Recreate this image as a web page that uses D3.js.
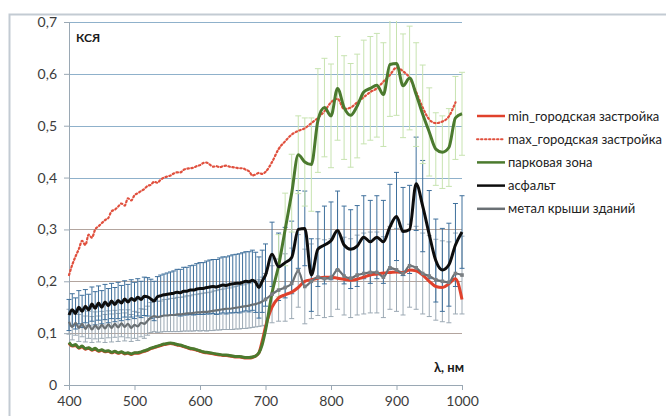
<!DOCTYPE html>
<html>
<head>
<meta charset="utf-8">
<script src="https://cdn.jsdelivr.net/npm/d3@7"></script>
<style>
body { margin: 0; background: #fff; }
svg { display: block; }
</style>
</head>
<body>
<script>
var w = 666;
var h = 416;

// wavelength, nm: 5 nm step up to 700, then 10 nm
var wavelengths = d3.range(400, 700, 5).concat(d3.range(700, 1001, 10));

var minUrban = [0.080,0.075,0.076,0.071,0.074,0.069,0.071,0.067,0.069,0.065,
  0.067,0.064,0.065,0.062,0.064,0.061,0.063,0.060,0.061,0.059,
  0.061,0.061,0.063,0.065,0.067,0.070,0.072,0.074,0.076,0.078,
  0.079,0.080,0.079,0.077,0.076,0.074,0.072,0.070,0.069,0.067,
  0.065,0.063,0.062,0.061,0.060,0.059,0.058,0.057,0.057,0.056,
  0.055,0.054,0.054,0.053,0.052,0.052,0.053,0.056,0.062,0.085,
  0.112,
  0.150,0.168,0.174,0.179,0.188,0.200,0.203,0.206,0.208,0.208,
  0.206,0.204,0.202,0.204,0.208,0.212,0.214,0.216,0.217,0.218,
  0.217,0.222,0.220,0.212,0.200,0.190,0.188,0.195,0.205,0.165];
var maxUrban = [0.212,0.232,0.248,0.262,0.278,0.270,0.290,0.284,0.300,0.306,
  0.312,0.318,0.322,0.335,0.338,0.344,0.350,0.346,0.360,0.356,
  0.366,0.370,0.374,0.378,0.384,0.386,0.392,0.390,0.396,0.400,
  0.402,0.404,0.408,0.410,0.410,0.415,0.417,0.418,0.419,0.422,
  0.424,0.428,0.429,0.425,0.421,0.422,0.420,0.422,0.423,0.421,
  0.420,0.419,0.418,0.418,0.415,0.412,0.404,0.406,0.409,0.407,
  0.411,
  0.430,0.455,0.470,0.483,0.490,0.495,0.505,0.515,0.528,0.545,
  0.552,0.532,0.535,0.545,0.555,0.565,0.572,0.585,0.598,0.612,
  0.605,0.592,0.565,0.535,0.512,0.505,0.508,0.518,0.545,null];
var park = [0.082,0.076,0.078,0.072,0.075,0.070,0.072,0.068,0.071,0.066,
  0.068,0.065,0.066,0.063,0.065,0.062,0.064,0.061,0.062,0.060,
  0.062,0.062,0.064,0.066,0.068,0.071,0.073,0.075,0.077,0.079,
  0.080,0.081,0.080,0.078,0.077,0.075,0.073,0.071,0.070,0.068,
  0.066,0.064,0.063,0.062,0.061,0.060,0.059,0.058,0.058,0.057,
  0.056,0.055,0.055,0.054,0.053,0.053,0.054,0.056,0.062,0.078,
  0.105,
  0.178,0.230,0.300,0.370,0.444,0.430,0.425,0.510,0.535,0.519,
  0.572,0.535,0.520,0.538,0.565,0.572,0.578,0.560,0.618,0.620,
  0.577,0.592,0.560,0.522,0.488,0.455,0.449,0.458,0.515,0.523];
var asphalt = [0.135,0.145,0.138,0.150,0.142,0.152,0.145,0.156,0.148,0.158,
  0.150,0.160,0.153,0.162,0.155,0.163,0.158,0.166,0.160,0.167,
  0.163,0.169,0.165,0.171,0.170,0.166,0.162,0.170,0.172,0.174,
  0.175,0.176,0.177,0.179,0.178,0.181,0.181,0.183,0.183,0.185,
  0.186,0.186,0.188,0.189,0.190,0.189,0.191,0.193,0.192,0.194,
  0.195,0.196,0.196,0.198,0.200,0.199,0.202,0.198,0.188,0.200,
  0.212,
  0.252,0.228,0.236,0.246,0.300,0.302,0.212,0.262,0.270,0.278,
  0.298,0.270,0.262,0.268,0.285,0.276,0.285,0.276,0.305,0.325,
  0.296,0.300,0.388,0.345,0.290,0.240,0.222,0.232,0.270,0.295];
var metal = [0.122,0.112,0.120,0.110,0.118,0.108,0.116,0.107,0.115,0.108,
  0.116,0.109,0.117,0.110,0.118,0.111,0.119,0.112,0.118,0.110,
  0.116,0.113,0.120,0.118,0.124,0.130,0.133,0.131,0.132,0.134,
  0.134,0.135,0.135,0.136,0.136,0.137,0.138,0.138,0.139,0.140,
  0.140,0.141,0.141,0.142,0.143,0.144,0.145,0.146,0.147,0.147,
  0.148,0.149,0.150,0.151,0.152,0.153,0.155,0.156,0.158,0.161,
  0.165,
  0.175,0.183,0.188,0.196,0.220,0.190,0.200,0.208,0.205,0.207,
  0.222,0.210,0.206,0.212,0.215,0.217,0.217,0.208,0.226,0.222,
  0.215,0.230,0.226,0.215,0.210,0.203,0.200,0.198,0.215,0.212];

// error bar half-widths (same wavelengths as the series)
var asphaltErr = [0.030,0.031,0.030,0.032,0.031,0.032,0.030,0.033,0.032,0.033,
  0.032,0.034,0.033,0.034,0.033,0.035,0.034,0.035,0.034,0.036,
  0.035,0.036,0.035,0.037,0.037,0.038,0.038,0.039,0.040,0.040,
  0.041,0.042,0.043,0.044,0.045,0.046,0.046,0.047,0.048,0.049,
  0.050,0.050,0.051,0.052,0.052,0.053,0.054,0.054,0.055,0.055,
  0.056,0.056,0.057,0.057,0.057,0.058,0.058,0.058,0.059,0.060,
  0.060,
  0.062,0.065,0.068,0.070,0.075,0.072,0.070,0.072,0.075,0.075,
  0.076,0.075,0.076,0.078,0.080,0.080,0.080,0.080,0.082,0.085,
  0.085,0.085,0.090,0.088,0.085,0.080,0.080,0.080,0.080,0.070];
var metalErr = [0.024,0.025,0.024,0.026,0.025,0.025,0.026,0.025,0.026,0.025,
  0.026,0.027,0.026,0.027,0.026,0.027,0.026,0.027,0.027,0.026,
  0.026,0.027,0.027,0.028,0.028,0.029,0.030,0.030,0.030,0.031,
  0.031,0.032,0.032,0.033,0.033,0.033,0.034,0.034,0.035,0.035,
  0.036,0.036,0.037,0.037,0.038,0.038,0.039,0.039,0.040,0.040,
  0.041,0.041,0.042,0.042,0.043,0.043,0.044,0.044,0.045,0.047,
  0.050,
  0.055,0.060,0.065,0.068,0.070,0.072,0.072,0.074,0.075,0.075,
  0.076,0.075,0.076,0.077,0.078,0.078,0.078,0.078,0.080,0.080,
  0.080,0.080,0.080,0.078,0.078,0.078,0.078,0.078,0.078,0.075];
// park error bars only from 720 nm
var parkErrWl = d3.range(720, 1001, 10);
var parkErr = [0.060,0.070,0.075,0.075,0.085,0.090,0.100,0.095,0.100,0.100,
  0.100,0.100,0.100,0.100,0.100,0.100,0.100,0.100,0.100,0.100,
  0.100,0.100,0.095,0.085,0.070,0.070,0.075,0.080,0.080];

var yTicks = [0, 0.1, 0.2, 0.3, 0.4, 0.5, 0.6, 0.7];
var xTicks = [400, 500, 600, 700, 800, 900, 1000];
var legendNames = ["min_городская застройка", "max_городская застройка", "парковая зона", "асфальт", "метал крыши зданий"];

var x = d3.scaleLinear().domain([400, 1000]).range([69, 462]);
var y = d3.scaleLinear().domain([0, 0.7]).range([385, 22]);

var svg = d3.select("body").append("svg")
            .attr("width", w)
            .attr("height", h)
            .style("font-family", "Lato, 'Open Sans', sans-serif");

// outer chart frame
svg.append("rect")
  .attr("x", 9.5).attr("y", 14.5)
  .attr("width", 700).attr("height", 500)
  .attr("fill", "none")
  .attr("stroke", "#c3cbd3")
  .attr("stroke-width", 2);

svg.append("clipPath").attr("id", "plot")
  .append("rect").attr("x", 60).attr("y", 21).attr("width", 415).attr("height", 365);

// gridlines
svg.selectAll("line.grid")
  .data(yTicks.filter(function(d) { return d > 0; }))
  .enter()
  .append("line")
  .attr("class", "grid")
  .attr("x1", x(400)).attr("x2", x(1000))
  .attr("y1", function(d) { return Math.round(y(d)) + 0.5; })
  .attr("y2", function(d) { return Math.round(y(d)) + 0.5; })
  .attr("stroke", function(d) { return d >= 0.35 ? "#8fb1cb" : "#b3a59e"; })
  .attr("stroke-width", 1);

// axes
var yAxis = d3.axisLeft(y).tickValues(yTicks).tickSize(5)
  .tickFormat(function(d) { return d === 0 ? "0" : d3.format(".1f")(d).replace(".", ","); });
var xAxis = d3.axisBottom(x).tickValues(xTicks).tickSize(5).tickFormat(d3.format("d"));

var gy = svg.append("g").attr("transform", "translate(" + x(400) + ",0)").call(yAxis);
var gx = svg.append("g").attr("transform", "translate(0," + y(0) + ")").call(xAxis);
[gy, gx].forEach(function(g) {
  g.select(".domain").attr("stroke", "#9aa8b4");
  g.selectAll(".tick line").attr("stroke", "#9aa8b4");
  g.selectAll("text").attr("fill", "#3c3c3c").style("font-size", "14px").style("font-family", "Lato, sans-serif");
});
gy.selectAll("text").attr("x", -12);
gx.selectAll("text").attr("y", 11);

var plot = svg.append("g").attr("clip-path", "url(#plot)");

function errorBars(values, errWl, errs, color, cap) {
  var pts = errWl.map(function(d, i) {
    return {x: d, v: values[wavelengths.indexOf(d)], e: errs[i]};
  }).filter(function(d) { return d.v != null && d.e != null; });
  var g = plot.append("g").attr("stroke", color).attr("stroke-width", 1);
  g.selectAll("line.bar").data(pts).enter().append("line")
    .attr("x1", function(d) { return x(d.x); })
    .attr("x2", function(d) { return x(d.x); })
    .attr("y1", function(d) { return y(d.v - d.e); })
    .attr("y2", function(d) { return y(d.v + d.e); });
  g.selectAll("line.capt").data(pts).enter().append("line")
    .attr("x1", function(d) { return x(d.x) - cap; })
    .attr("x2", function(d) { return x(d.x) + cap; })
    .attr("y1", function(d) { return y(d.v + d.e); })
    .attr("y2", function(d) { return y(d.v + d.e); });
  g.selectAll("line.capb").data(pts).enter().append("line")
    .attr("x1", function(d) { return x(d.x) - cap; })
    .attr("x2", function(d) { return x(d.x) + cap; })
    .attr("y1", function(d) { return y(d.v - d.e); })
    .attr("y2", function(d) { return y(d.v - d.e); });
}

errorBars(metal, wavelengths, metalErr, "#9ca9b4", 2.5);
errorBars(asphalt, wavelengths, asphaltErr, "#3f709c", 2.5);
errorBars(park, parkErrWl, parkErr, "#c7e3b0", 3);

var line = d3.line()
  .defined(function(d) { return d != null; })
  .x(function(d, i) { return x(wavelengths[i]); })
  .y(function(d) { return y(d); })
  .curve(d3.curveMonotoneX);

var series = [
  {name: legendNames[0], values: minUrban, color: "#e0412c", width: 3, dash: null},
  {name: legendNames[1], values: maxUrban, color: "#e0503e", width: 2.2, dash: "1.5,2.5"},
  {name: legendNames[2], values: park, color: "#4b7a2e", width: 3, dash: null},
  {name: legendNames[3], values: asphalt, color: "#0d0d0d", width: 3, dash: null},
  {name: legendNames[4], values: metal, color: "#6a7074", width: 2.2, dash: null}
];

series.forEach(function(s) {
  plot.append("path")
    .datum(s.values)
    .attr("d", line)
    .attr("fill", "none")
    .attr("stroke", s.color)
    .attr("stroke-width", s.width)
    .attr("stroke-dasharray", s.dash)
    .attr("stroke-linecap", s.dash ? "round" : "butt")
    .attr("stroke-linejoin", "round");
});

// small markers on the metal series (10 nm part)
plot.selectAll("rect.mk")
  .data(metal.filter(function(d, i) { return wavelengths[i] >= 700; }))
  .enter()
  .append("rect")
  .attr("x", function(d, i) { return x(700 + i * 10) - 1.8; })
  .attr("y", function(d) { return y(d) - 1.8; })
  .attr("width", 3.6).attr("height", 3.6)
  .attr("fill", "#7a7f83");

// axis titles
svg.append("text").text("КСЯ")
  .attr("x", 76).attr("y", 42)
  .attr("font-size", 12).attr("font-weight", "bold").attr("fill", "#1a1a1a");
svg.append("text").text("λ, нм")
  .attr("x", 464).attr("y", 372)
  .attr("text-anchor", "end")
  .attr("font-size", 13).attr("font-weight", "bold").attr("fill", "#1a1a1a");

// legend
var legend = svg.selectAll("g.leg")
  .data(series)
  .enter()
  .append("g")
  .attr("transform", function(d, i) { return "translate(477," + (116 + i * 23.2) + ")"; });
legend.append("line")
  .attr("x1", 0).attr("x2", 28)
  .attr("stroke", function(d) { return d.color; })
  .attr("stroke-width", function(d) { return d.dash ? 2 : 2.5; })
  .attr("stroke-dasharray", function(d) { return d.dash; })
  .attr("stroke-linecap", function(d) { return d.dash ? "round" : "butt"; });
legend.append("text")
  .text(function(d) { return d.name; })
  .attr("x", 31).attr("dy", "0.35em")
  .attr("font-size", 13).attr("fill", "#222");
</script>
</body>
</html>
